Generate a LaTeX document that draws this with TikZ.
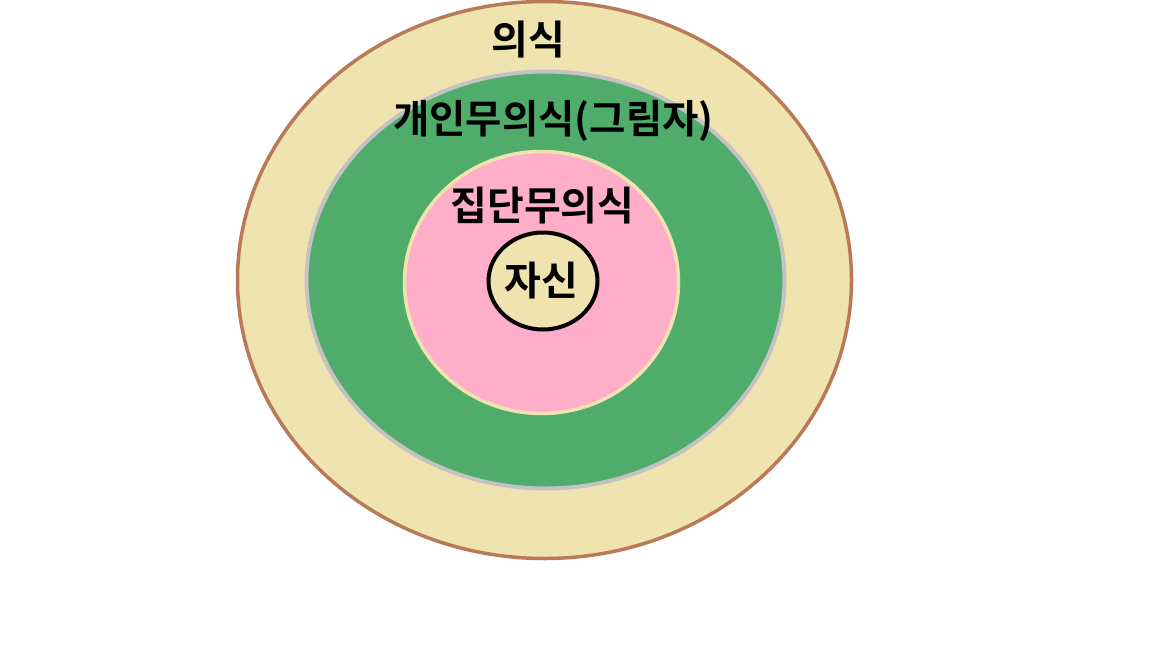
\documentclass[tikz,border=0pt]{standalone}
\usepackage{fontspec}
\newfontfamily\kr{Noto Sans CJK KR Bold}
\usetikzlibrary{shapes.geometric}
\definecolor{tan}{HTML}{EFE4B0}
\definecolor{brownline}{HTML}{B97A57}
\definecolor{greenfill}{HTML}{4FAC6B}
\definecolor{greyline}{HTML}{C3C3C3}
\definecolor{pinkfill}{HTML}{FFAEC9}
\tikzset{
  ring/.style={ellipse, inner sep=0pt, outer sep=0pt},
  lbl/.style={font=\kr\fontsize{40}{44}\selectfont, inner sep=0pt, anchor=center}
}
\begin{document}
\begin{tikzpicture}[x=1pt,y=-1pt]
\useasboundingbox (0,0) rectangle (1152,648);
\node[ring, draw=brownline, fill=tan, line width=3.5pt, minimum width=614pt, minimum height=557pt] (outer) at (544.5,280) {};
\node[ring, draw=greyline, fill=greenfill, line width=4pt, minimum width=478pt, minimum height=417pt] (personal) at (545.5,280) {};
\node[ring, draw=tan, fill=pinkfill, line width=3.5pt, minimum width=274pt, minimum height=262pt] (collective) at (541.5,282.5) {};
\node[ring, draw=black, fill=tan, line width=4pt, minimum width=109pt, minimum height=97pt] (self) at (543,281) {};
\node[lbl] (t1) at (528,40) {의식};
\node[lbl, font=\kr\fontsize{39.5}{44}\selectfont] (t2) at (553.5,121) {개인무의식(그림자)};
\node[lbl] (t3) at (542.5,206) {집단무의식};
\node[lbl] (t4) at (541.5,281) {자신};
\end{tikzpicture}
\end{document}
